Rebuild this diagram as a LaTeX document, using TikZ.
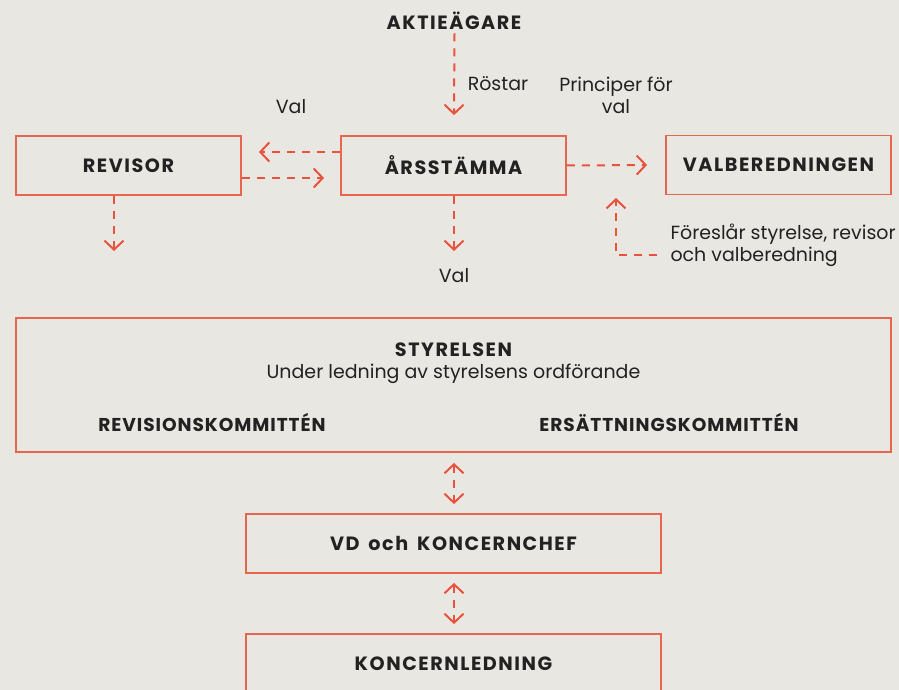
\documentclass[tikz,border=0pt]{standalone}
\usepackage{fontspec}
\setmainfont{Poppins}
\newfontfamily\capsfont[LetterSpace=8]{Poppins}
\newfontfamily\komfont[LetterSpace=5]{Poppins}
\usetikzlibrary{arrows.meta, positioning}
\definecolor{bgcol}{HTML}{E9E7E2}
\definecolor{arrowred}{HTML}{E9533D}
\definecolor{boxred}{HTML}{E8654F}
\definecolor{txt}{HTML}{222222}
\tikzstyle{box} = [draw=boxred, line width=1.8pt, rectangle, minimum width=225pt, minimum height=59pt, inner sep=0pt]
\tikzstyle{head} = [text=txt, font=\capsfont\bfseries\fontsize{19.2}{22}\selectfont]
\tikzstyle{kom} = [text=txt, font=\komfont\bfseries\fontsize{18.6}{22}\selectfont]
\tikzstyle{lbl} = [text=txt, font=\fontsize{19}{22}\selectfont, align=center]
\tikzstyle{flow} = [draw=arrowred, line width=2pt, dash pattern=on 8pt off 7pt]

\begin{document}
\begin{tikzpicture}[x=1pt, y=-1pt, >={Straight Barb[length=9pt, width=19pt]}]
    \fill [bgcol] (0,0) rectangle (899,690);
    \useasboundingbox (0,0) rectangle (899,690);

    \node [head] (aktie) at (454,21) {AKTIEÄGARE};
    \node [box, head] (arsst) at (453.5,165.5) {ÅRSSTÄMMA};
    \node [box, head] (revisor) at (128.5,165.5) {REVISOR};
    \node [box, head] (valber) at (778.5,165) {VALBEREDNINGEN};
    \node [box, minimum width=875pt, minimum height=134pt] (styr) at (453.5,385) {};
    \node [head] (styrtitle) at (453.5,350) {STYRELSEN};
    \node [lbl] (styrsub) at (453.5,374) {Under ledning av styrelsens ordförande};
    \node [kom] (revkom) at (212,422) {REVISIONSKOMMITTÉN};
    \node [kom] (ersk) at (669,422) {ERSÄTTNINGSKOMMITTÉN};
    \node [box, head, minimum width=415pt] (vd) at (453.5,543.5) {VD\, och\, KONCERNCHEF};
    \node [box, head, minimum width=415pt, minimum height=60pt] (koncern) at (453.5,664) {KONCERNLEDNING};

    \node [lbl] (rostar) at (498,84) {Röstar};
    \node [lbl] (valtop) at (291,107) {Val};
    \node [lbl] (princ) at (616,95) {Principer för\\val};
    \node [lbl] (valbot) at (454,276) {Val};
    \node [lbl, align=left, anchor=west] (forsl) at (667,245) {Föreslår styrelse, revisor\\och valberedning};

    \coordinate (revout) at (114,251);
    \coordinate (arsout) at (454,251);
    \coordinate (fstart) at (657,255);
    \coordinate (fend) at (616,198);

    \draw [flow,->] (aktie.south) ++(0.5,0) -- ([xshift=0.5pt, yshift=20pt]arsst.north);
    \draw [flow,->] ([yshift=13.5pt]arsst.west) -- ([xshift=17pt, yshift=13.5pt]revisor.east);
    \draw [flow,->] ([yshift=-12.5pt]revisor.east) -- ([xshift=-16pt, yshift=-12.5pt]arsst.west);
    \draw [flow,->] (arsst.east) -- ([xshift=-18pt]valber.west);
    \draw [flow,->] ([xshift=-14.5pt]revisor.south) -- (revout);
    \draw [flow,->] ([xshift=0.5pt]arsst.south) -- (arsout);
    \draw [flow,->] (fstart) -| (fend);
    \draw [flow,<->, shorten <=10pt, shorten >=9pt] ([xshift=0.5pt]styr.south) -- ([xshift=0.5pt]vd.north);
    \draw [flow,<->, shorten <=9pt, shorten >=9pt] ([xshift=0.5pt]vd.south) -- ([xshift=0.5pt]koncern.north);
\end{tikzpicture}
\end{document}
